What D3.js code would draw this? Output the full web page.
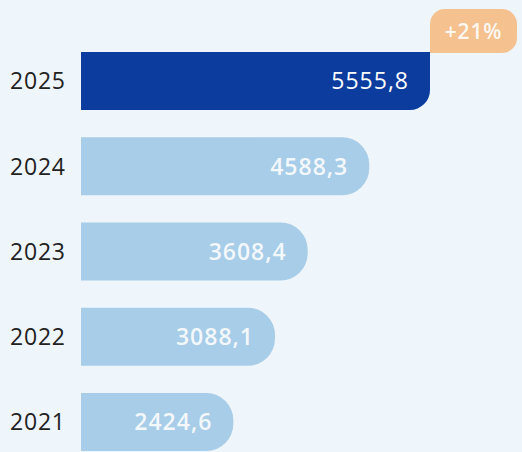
<!DOCTYPE html>
<html>
<head>
<meta charset="utf-8">
<script src="https://cdn.jsdelivr.net/npm/d3@7"></script>
<style>
  html, body { margin: 0; padding: 0; background: #eef5fb; }
  svg { display: block; font-family: "Open Sans", sans-serif; }
</style>
</head>
<body>
<svg id="chart" width="522" height="452"></svg>
<script>
const years = ['2025', '2024', '2023', '2022', '2021'];
const values = [5555.8, 4588.3, 3608.4, 3088.1, 2424.6];
const valueLabels = ['5555,8', '4588,3', '3608,4', '3088,1', '2424,6'];
const badgeText = '+21%';

const width = 522, height = 452;
const x0 = 81;

const svg = d3.select('#chart');
svg.append('rect').attr('width', width).attr('height', height).attr('fill', '#eef5fb');

const x = d3.scaleLinear().domain([0, 5555.8]).range([x0, 430]);
const y = d3.scaleBand().domain(years).range([52, 451]).paddingInner(0.32).paddingOuter(0);
const bh = y.bandwidth();

// light bars: right end rounded on both corners
function roundRight(x1, top, h, r) {
    return `M${x0},${top} H${x1 - r} A${r},${r} 0 0 1 ${x1},${top + r} V${top + h - r} A${r},${r} 0 0 1 ${x1 - r},${top + h} H${x0} Z`;
}
// dark bar: only bottom-right corner rounded
function roundBottomRight(x1, top, h, r) {
    return `M${x0},${top} H${x1} V${top + h - r} A${r},${r} 0 0 1 ${x1 - r},${top + h} H${x0} Z`;
}

const rows = years.map((yr, i) => ({ year: yr, value: values[i], label: valueLabels[i], first: i === 0 }));

const g = svg.append('g');

g.selectAll('.bar').data(rows).join('path')
    .attr('class', 'bar')
    .attr('d', d => d.first
        ? roundBottomRight(x(d.value), y(d.year), bh, 20)
        : roundRight(x(d.value), y(d.year), bh, 27))
    .attr('fill', d => d.first ? '#0b3c9e' : '#a8cde9');

g.selectAll('.year').data(rows).join('text')
    .attr('class', 'year')
    .attr('x', 10)
    .attr('y', d => y(d.year) + bh / 2)
    .attr('dy', '0.36em')
    .attr('font-size', 23)
    .attr('font-weight', 500)
    .attr('letter-spacing', 0.8)
    .attr('fill', '#222')
    .text(d => d.year);

g.selectAll('.val').data(rows).join('text')
    .attr('class', 'val')
    .attr('x', d => x(d.value) - 21)
    .attr('y', d => y(d.year) + bh / 2)
    .attr('dy', '0.36em')
    .attr('text-anchor', 'end')
    .attr('font-size', 23)
    .attr('font-weight', d => d.first ? 500 : 600)
    .attr('letter-spacing', 1)
    .attr('fill', '#ffffff')
    .attr('fill-opacity', d => d.first ? 1 : 0.88)
    .text(d => d.label);

// growth badge sitting on top of the 2025 bar end
const bx = x(values[0]), by = 9, bw = 87, bhh = 44, br = 15;
g.append('path')
    .attr('d', `M${bx},${by + br} A${br},${br} 0 0 1 ${bx + br},${by} H${bx + bw - br} A${br},${br} 0 0 1 ${bx + bw},${by + br} V${by + bhh - br} A${br},${br} 0 0 1 ${bx + bw - br},${by + bhh} H${bx} Z`)
    .attr('fill', '#f5c18f');
g.append('text')
    .attr('x', bx + bw / 2)
    .attr('y', by + bhh / 2)
    .attr('dy', '0.36em')
    .attr('text-anchor', 'middle')
    .attr('font-size', 21)
    .attr('font-weight', 600)
    .attr('letter-spacing', 0.8)
    .attr('fill', '#ffffff')
    .attr('fill-opacity', 0.9)
    .text(badgeText);
</script>
</body>
</html>
